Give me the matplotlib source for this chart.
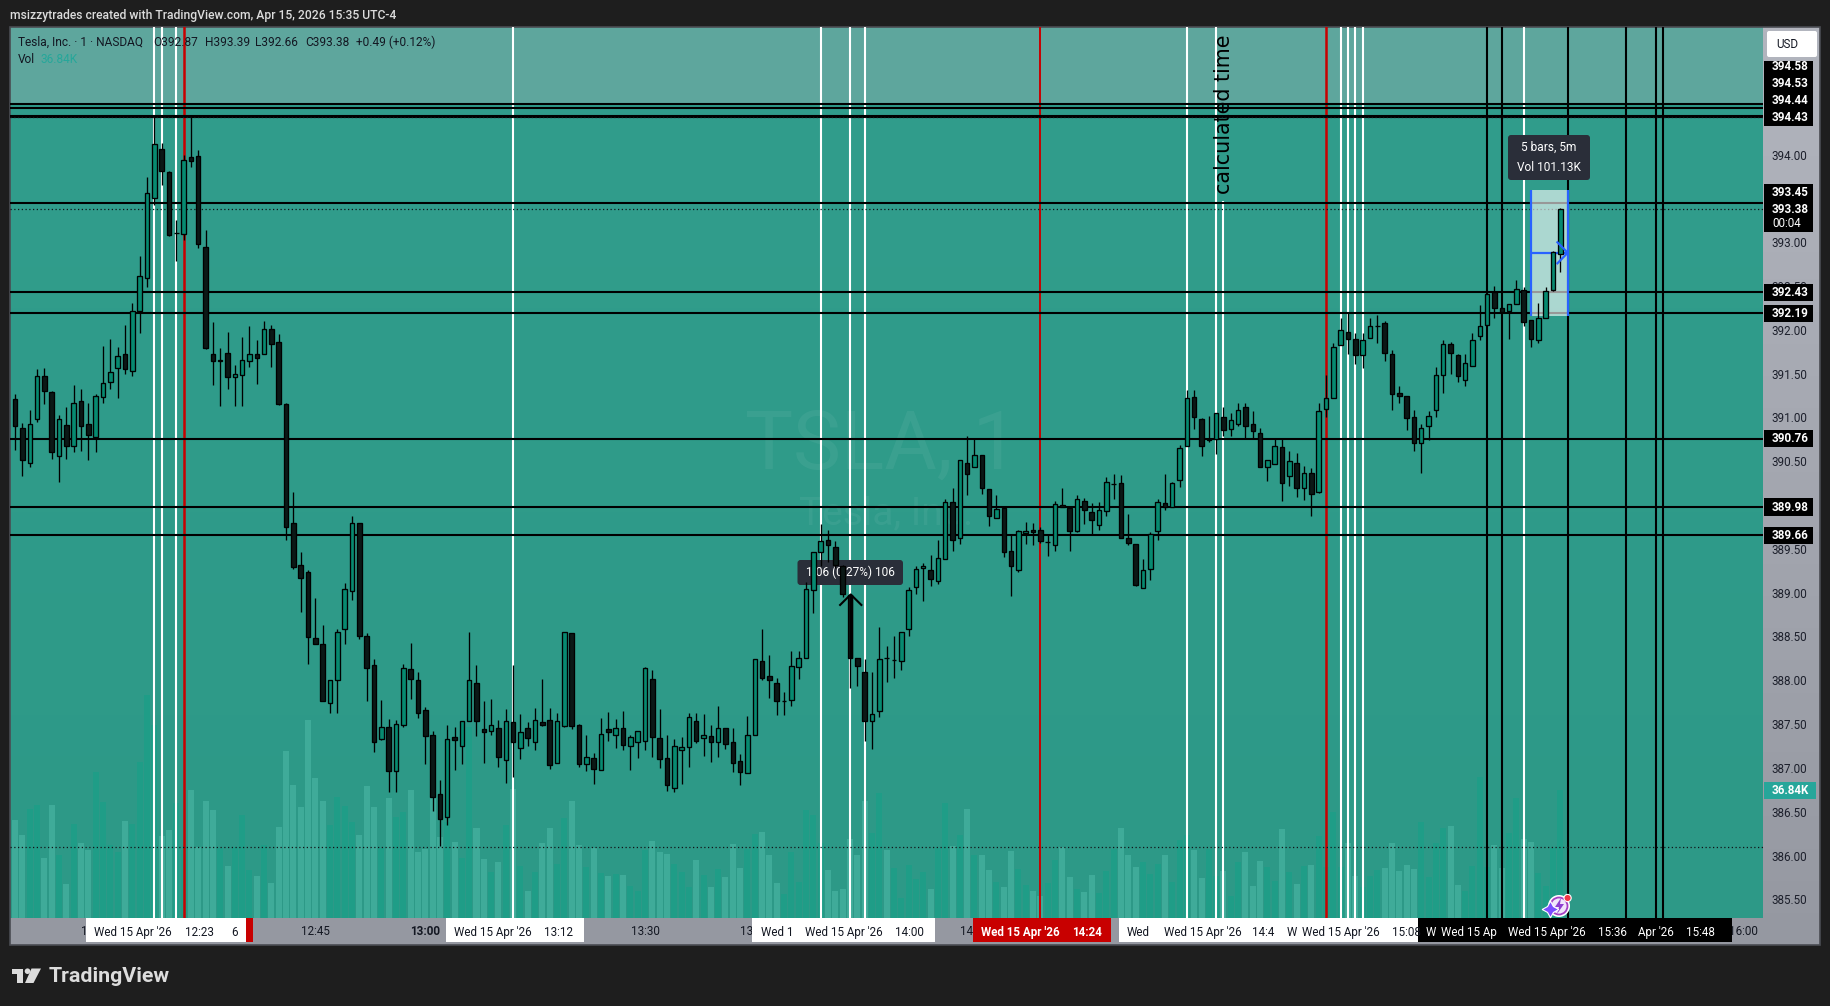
import numpy as np
import matplotlib
matplotlib.use('Agg')
import matplotlib.pyplot as plt
from matplotlib.patches import Rectangle, FancyBboxPatch, Polygon, Circle

plt.rcParams['font.family'] = ['Roboto', 'DejaVu Sans']

W, H = 1831, 1006

# minutes since midnight, one bar per minute, 12:04 to 15:35
first_bar = 724
opens = [391.21,390.88,390.48,390.98,391.47,391.29,390.56,390.91,390.68,391.19,
390.92,390.78,391.23,391.41,391.56,391.72,391.53,392.22,392.59,393.51,
394.07,393.80,393.11,393.10,393.97,393.98,392.95,391.73,391.64,391.74,
391.46,391.49,391.65,391.73,391.72,392.01,391.86,391.15,389.79,389.32,
389.24,388.48,388.42,387.74,388.00,388.59,389.02,389.79,388.51,388.18,
387.33,387.47,386.97,387.49,388.13,388.00,387.66,387.37,386.70,386.44,
387.35,387.25,387.53,387.97,387.44,387.42,387.45,387.09,387.52,387.23,
387.45,387.30,387.52,387.55,387.06,387.48,388.54,387.49,387.05,387.11,
386.98,387.44,387.38,387.46,387.25,387.30,387.31,388.01,387.34,387.11,
386.77,387.20,387.24,387.53,387.34,387.36,387.29,387.45,387.30,387.08,
386.94,387.38,388.22,388.05,387.97,387.76,387.78,388.15,388.26,389.03,
389.47,389.60,389.52,389.30,388.97,388.26,388.10,387.54,387.65,388.26,
388.23,388.22,388.58,389.07,389.28,389.26,389.13,389.39,390.04,389.62,
390.48,390.43,390.57,390.18,389.85,389.97,389.48,389.26,389.68,389.71,
389.71,389.58,389.55,390.00,389.97,389.70,390.05,389.92,389.77,389.93,
390.24,390.25,389.63,389.56,389.05,389.27,389.70,390.02,389.98,390.29,
390.67,391.23,390.98,390.74,390.76,391.00,390.87,390.93,391.12,390.92,
390.82,390.44,390.47,390.66,390.33,390.48,390.20,390.37,390.15,391.10,
391.22,391.83,391.98,391.90,391.71,391.91,392.05,392.08,391.73,391.28,
391.24,391.00,390.71,390.90,391.08,391.49,391.84,391.71,391.43,391.59,
391.93,392.06,392.43,392.25,392.22,392.29,392.46,392.11,391.89,392.13,
392.45,392.87]
highs = [391.27,390.94,391.09,391.55,391.57,391.30,391.03,391.12,391.37,391.33,
391.16,391.27,391.82,391.90,391.80,392.06,392.31,392.84,393.74,394.43,
394.13,393.81,393.26,394.00,394.43,394.05,393.14,392.09,391.79,391.98,
391.60,391.92,392.04,391.89,392.10,392.06,391.95,391.17,390.15,389.47,
389.26,388.94,388.63,388.00,388.58,389.11,389.88,389.79,388.54,388.24,
387.77,387.56,387.55,388.19,388.43,388.10,387.69,387.42,386.86,387.49,
387.47,387.54,388.55,388.17,387.76,387.79,387.55,387.67,388.17,387.62,
387.52,387.68,388.02,387.68,387.63,388.55,388.54,387.50,387.38,387.17,
387.57,387.64,387.56,387.65,387.38,387.42,388.15,388.12,387.67,387.38,
387.33,387.35,387.63,387.63,387.62,387.49,387.71,387.46,387.45,387.16,
387.59,388.24,388.59,388.29,388.03,387.87,388.33,388.33,389.12,389.47,
389.78,389.72,389.59,389.32,388.98,388.26,388.24,388.10,388.61,388.39,
388.51,388.55,389.06,389.30,389.34,389.43,389.60,390.07,390.20,390.52,
390.79,390.77,390.57,390.18,390.12,389.98,389.66,389.72,389.81,389.79,
389.75,389.66,390.05,390.20,389.97,390.12,390.08,390.02,390.04,390.32,
390.36,390.34,389.90,389.56,389.39,389.69,390.07,390.35,390.26,390.69,
391.31,391.31,390.99,391.02,391.05,391.12,391.05,391.16,391.16,391.07,
390.88,390.52,390.76,390.76,390.62,390.60,390.45,390.42,391.16,391.49,
391.85,392.13,392.19,391.97,391.97,392.13,392.17,392.10,391.77,391.36,
391.24,391.08,390.92,391.07,391.58,391.88,391.86,391.73,391.72,391.97,
392.28,392.41,392.50,392.25,392.29,392.57,392.49,392.11,392.31,392.49,
392.90,393.39]
lows = [390.63,390.33,390.44,390.95,391.15,390.53,390.26,390.53,390.61,390.62,
390.52,390.61,391.17,391.33,391.22,391.50,391.47,391.97,392.49,393.42,
393.65,393.07,392.79,393.03,393.86,392.93,391.78,391.37,391.13,391.33,
391.13,391.13,391.58,391.38,391.72,391.58,391.14,389.60,389.27,388.78,
388.19,388.42,387.76,387.63,387.63,388.42,388.92,388.47,387.76,387.18,
387.32,386.72,386.72,387.47,387.79,387.57,387.05,386.51,386.11,386.35,
386.98,387.04,387.53,387.36,387.06,387.37,387.01,386.83,386.90,387.10,
387.25,387.20,387.48,386.99,387.06,387.47,387.44,387.01,386.96,386.82,
386.98,387.31,387.23,387.21,386.98,387.11,387.20,387.13,387.00,386.74,
386.73,386.82,387.01,387.28,387.14,387.07,387.13,387.22,386.95,386.80,
386.94,387.38,388.00,387.80,387.60,387.60,387.71,388.01,388.25,388.77,
389.30,389.35,389.28,388.95,387.91,387.94,387.31,387.22,387.58,387.98,
388.03,388.12,388.51,388.99,388.91,389.08,389.10,389.39,389.48,389.56,
390.12,390.43,390.13,389.76,389.85,389.41,388.96,389.24,389.56,389.55,
389.57,389.42,389.48,389.98,389.48,389.69,389.78,389.67,389.72,389.87,
390.07,389.63,389.55,389.08,389.05,389.15,389.60,389.94,389.98,390.21,
390.67,390.87,390.56,390.72,390.58,390.79,390.79,390.90,390.77,390.77,
390.43,390.28,390.47,390.05,390.22,390.09,390.06,389.88,390.14,391.01,
391.22,391.83,391.72,391.61,391.57,391.91,391.85,391.64,391.09,391.17,
390.86,390.62,390.37,390.74,391.01,391.28,391.50,391.41,391.36,391.59,
391.89,392.06,392.14,392.19,391.90,392.29,392.05,391.81,391.85,392.13,
392.44,392.66]
closes = [390.90,390.51,390.92,391.47,391.30,390.61,390.98,390.68,391.16,390.90,
390.80,391.24,391.39,391.52,391.70,391.55,392.21,392.61,393.56,394.12,
393.81,393.08,393.11,393.94,393.93,392.98,391.79,391.65,391.66,391.46,
391.50,391.66,391.73,391.68,392.01,391.84,391.15,389.75,389.29,389.17,
388.49,388.42,387.76,388.00,388.55,389.04,389.79,388.50,388.14,387.29,
387.47,386.97,387.50,388.14,388.02,387.63,387.36,386.67,386.42,387.33,
387.32,387.54,388.00,387.54,387.41,387.49,387.12,387.53,387.30,387.41,
387.34,387.55,387.49,387.03,387.54,388.55,387.48,387.04,387.13,386.99,
387.39,387.41,387.46,387.26,387.35,387.42,388.14,387.35,387.10,386.81,
387.25,387.24,387.58,387.31,387.38,387.29,387.46,387.27,387.06,386.95,
387.38,388.24,388.03,388.00,387.76,387.76,388.16,388.26,389.04,389.47,
389.59,389.55,389.32,388.99,388.25,388.16,387.54,387.61,388.24,388.25,
388.23,388.55,389.03,389.27,389.30,389.16,389.40,390.04,389.60,390.52,
390.36,390.57,390.20,389.87,389.96,389.46,389.30,389.70,389.70,389.69,
389.59,389.58,390.01,389.98,389.70,390.07,389.94,389.83,389.94,390.26,
390.24,389.63,389.57,389.09,389.26,389.67,390.04,389.98,390.25,390.65,
391.22,391.00,390.68,390.75,391.05,390.86,390.97,391.08,390.90,390.85,
390.44,390.52,390.67,390.25,390.50,390.19,390.37,390.13,391.07,391.22,
391.80,392.00,391.90,391.71,391.89,392.04,392.05,391.74,391.27,391.24,
390.99,390.71,390.88,391.02,391.49,391.84,391.74,391.47,391.62,391.89,
392.04,392.41,392.25,392.20,392.29,392.47,392.09,391.90,392.13,392.44,
392.89,393.38]
# volume in thousands
volumes = [28.2,23.9,31.3,32.5,17.1,32.5,18.1,9.7,27.0,21.5,
19.5,42.1,33.3,21.0,19.0,27.9,27.0,45.0,64.3,55.6,
23.6,25.3,33.0,19.5,36.8,20.5,33.7,31.1,20.0,14.9,
20.5,29.6,13.8,12.0,21.0,9.9,26.3,48.1,38.3,32.0,
57.0,40.2,33.7,26.7,34.9,32.2,27.7,23.9,38.0,32.0,
20.0,34.6,29.1,30.6,36.8,19.0,19.8,40.2,23.4,27.7,
21.8,17.1,55.1,25.8,16.9,13.3,16.2,26.7,37.0,14.9,
7.7,13.3,21.5,25.8,15.5,28.7,33.7,21.0,14.7,20.2,
12.8,12.1,12.7,12.4,9.2,7.8,19.6,22.2,19.1,18.5,
15.6,13.2,8.8,16.7,12.4,9.0,14.1,11.8,21.4,14.4,
19.8,24.2,24.8,18.0,9.9,6.9,18.9,10.4,31.2,29.7,
21.5,13.9,7.8,8.4,22.8,18.2,33.6,24.4,36.0,19.4,
14.3,5.6,15.3,11.3,13.1,8.4,20.1,33.1,20.6,24.0,
31.5,18.0,18.2,13.9,10.3,8.9,19.3,14.1,9.5,7.8,
6.3,10.0,16.7,20.4,11.8,8.4,7.5,12.4,7.1,13.6,
19.8,26.0,18.2,14.7,16.2,12.7,15.6,18.2,10.4,22.5,
24.0,19.6,11.5,19.8,12.1,13.6,6.3,16.0,19.0,9.2,
16.5,14.5,10.6,25.6,13.3,9.7,14.9,15.2,23.6,14.7,
30.5,14.7,21.5,12.0,8.9,12.0,13.8,14.3,21.5,13.5,
15.2,14.0,27.5,11.8,21.5,26.0,26.5,9.4,7.7,14.9,
40.7,14.7,21.0,14.3,24.3,34.6,22.6,21.7,13.0,9.1,
20.0,36.84]

# horizontal levels, and vertical time lines in minutes
black_levels = [394.58, 394.53, 394.44, 394.43, 393.45, 392.43, 392.19, 390.76, 389.98, 389.66]
dotted_levels = [394.43, 393.38, 386.10]
white_times = [743, 744, 746, 792, 834, 838, 840, 884, 888, 905, 906, 907, 908, 930]
white_short_time = 889
white_short_top = 393.47
red_times = [747, 864, 903]
red_widths = [1.8, 1.4, 1.8]
black_times = [925, 927, 936, 944, 948, 949]

price_ticks = [385.5 + 0.5 * i for i in range(18)]
time_ticks = [735, 750, 765, 780, 810, 825, 855, 960]
time_tick_labels = ['12:15', '12:30', '12:45', '13:00', '13:30', '13:45', '14:15', '16:00']

times = first_bar + np.arange(len(opens))
opens = np.array(opens)
closes = np.array(closes)
highs = np.array(highs)
lows = np.array(lows)
bull = closes >= opens

fig = plt.figure(figsize=(W / 100, H / 100), dpi=100, facecolor='#1e1e1e')

PANE = (10, 27.3, 1763, 917.7)
XLIM = (723.3, 962.67)
YLIM = (385.29, 395.454)


def pixel_axes(z):
    a = fig.add_axes([0, 0, 1, 1], zorder=z)
    a.set_xlim(0, W)
    a.set_ylim(H, 0)
    a.axis('off')
    a.patch.set_alpha(0)
    return a


def pane_axes(z):
    l, t, r, b = PANE
    a = fig.add_axes([l / W, 1 - b / H, (r - l) / W, (b - t) / H], zorder=z)
    a.set_xlim(*XLIM)
    a.set_ylim(*YLIM)
    a.patch.set_alpha(0)
    for s in a.spines.values():
        s.set_visible(False)
    return a


# back layer: pane and scale colours
back = pixel_axes(0)
rows = np.arange(27, 918)
pane_rgb = np.zeros((len(rows), 1, 3))
light = rows < 104
pane_rgb[light, 0, :] = np.array([94, 166, 157]) / 255
mix = ((rows - 104) / (918 - 104))[:, None]
dark_col = (np.array([49, 157, 140]) * (1 - mix) + np.array([45, 153, 135]) * mix) / 255
pane_rgb[~light, 0, :] = dark_col[~light]
back.imshow(pane_rgb, extent=(10, 1763, 917.7, 27.3), aspect='auto', interpolation='nearest')
side = np.linspace(0, 1, 200)[:, None]
side_rgb = (np.array([178, 181, 190]) * (1 - side) + np.array([149, 152, 161]) * side)[:, None, :] / 255
back.imshow(side_rgb, extent=(1763, 1820, 945, 27.3), aspect='auto')
back.add_patch(Rectangle((10, 917.7), 1753, 27.3, fc='#9598a1', ec='none'))
back.add_patch(Rectangle((10, 27), 1810, 918, fc='none', ec='#4a4c52', lw=1.2))
back.set_xlim(0, W)
back.set_ylim(H, 0)
back.text(881, 447, 'TSLA, 1', color='white', alpha=0.055, fontsize=58, ha='center', va='center', family='Roboto')
back.text(886, 514, 'Tesla, Inc.', color='white', alpha=0.055, fontsize=28, ha='center', va='center', family='Roboto')

# volume pane
ax_vol = pane_axes(1)
ax_vol.set_ylim(0, 256.9)
ax_vol.axis('off')
ax_vol.bar(times, volumes, width=0.82, color=np.where(bull, '#1f9d87', '#3fab99'), linewidth=0)

# price pane
ax = pane_axes(2)
ax.yaxis.tick_right()
ax.set_yticks(price_ticks)
ax.set_yticklabels(['%.2f' % p for p in price_ticks], fontsize=8.4, color='#1c1f2b')
ax.set_xticks(time_ticks)
ax.set_xticklabels(time_tick_labels, fontsize=8.4, color='#131722')
ax.get_xticklabels()[3].set_fontweight('bold')
ax.tick_params(axis='both', length=0)
ax.tick_params(axis='y', pad=6.2)
ax.tick_params(axis='x', pad=5.5)

ax.vlines(white_times, YLIM[0], YLIM[1], color='white', lw=1.5, zorder=2)
ax.vlines([white_short_time], YLIM[0], white_short_top, color='white', lw=1.5, zorder=2)
for t, w in zip(red_times, red_widths):
    ax.axvline(t, color='#c80000', lw=w, zorder=2.1)
ax.vlines(black_times, YLIM[0], YLIM[1], color='black', lw=1.5, zorder=2.2)
ax.hlines(black_levels, XLIM[0], XLIM[1], color='black', lw=1.5, zorder=2.3)
ax.hlines(dotted_levels, XLIM[0], XLIM[1], color='#101418', lw=0.9, linestyles=(0, (1, 2)), zorder=2.3)

# date range box
box_t0, box_t1 = 931, 936
box_lo, box_hi = 392.16, 393.60
ax.add_patch(Rectangle((box_t0, box_lo), box_t1 - box_t0, box_hi - box_lo, fc='white', alpha=0.6, ec='none', zorder=3))
ax.vlines([box_t0, box_t1], box_lo, box_hi, color='#2962ff', lw=1.6, zorder=3.1)
ax.hlines([(box_lo + box_hi) / 2], box_t0, box_t1, color='#2962ff', lw=1.6, zorder=3.1)

# tooltips, over the lines but under the candles
for x0, y0, x1, y1, lines in [(797.5, 560, 903, 585, [('1.06 (0.27%) 106', 572.5)]),
                              (1508, 135, 1590, 180, [('5 bars, 5m', 147), ('Vol 101.13K', 167)])]:
    ax.add_patch(FancyBboxPatch((x0 + 3, y0 + 3), x1 - x0 - 6, y1 - y0 - 6, boxstyle='round,pad=3', fc='#2a2e39', ec='none',
                                transform=back.transData, zorder=3.4))
    for txt, ty in lines:
        ax.text((x0 + x1) / 2, ty, txt, color='white', fontsize=8.6, ha='center', va='center',
                transform=back.transData, zorder=3.5)

# candles
ax.vlines(times, lows, highs, color='black', lw=0.95, zorder=4)
ax.bar(times, np.abs(closes - opens), bottom=np.minimum(opens, closes), width=0.62,
       color=np.where(bull, '#078a70', '#0b1816'), edgecolor='black', linewidth=0.95, zorder=4.1)

# price range arrow over bar at 13:58
ax.plot([838.1, 838.1], [388.25, 388.97], color='black', lw=2.4, zorder=4.5, solid_capstyle='butt')
ax.plot([836.65, 838.1, 839.55], [388.86, 388.98, 388.86], color='black', lw=1.5, zorder=4.5)
ax.plot([934.6, 936, 934.6], [393.0, 392.88, 392.76], color='#2962ff', lw=1.6, zorder=4.5)

ax.text(1224, 114, 'calculated time', rotation=90, ha='center', va='center', fontsize=14.9, color='black',
        family='DejaVu Sans', transform=back.transData, zorder=5)

for x, txt in [(18, 'Tesla, Inc. · 1 · NASDAQ'), (153, 'O392.87'), (204.6, 'H393.39'), (255, 'L392.66'),
               (305, 'C393.38'), (356, '+0.49 (+0.12%)')]:
    ax.text(x, 42, txt, color='#131722', fontsize=8.6, va='center', transform=back.transData, zorder=5)
ax.text(18, 59, 'Vol', color='#131722', fontsize=8.6, va='center', transform=back.transData, zorder=5)
ax.text(41, 59, '36.84K', color='#26a69a', fontsize=8.6, va='center', transform=back.transData, zorder=5)

# top layer: chrome and labels
top = pixel_axes(5)
top.text(10, 15, 'msizzytrades created with TradingView.com, Apr 15, 2026 15:35 UTC-4', color='#dcdcdc', fontsize=8.7,
         fontweight='medium', va='center')

top.add_patch(FancyBboxPatch((1769, 33), 46, 22, boxstyle='round,pad=2', fc='white', ec='none'))
top.text(1776, 44.5, 'USD', color='#131722', fontsize=8.4, va='center')

for y0, y1 in [(61, 126), (184, 232), (284, 301), (305, 322), (430, 447), (498, 516), (527, 544)]:
    top.add_patch(Rectangle((1764, y0), 49, y1 - y0, fc='black', ec='none'))
for txt, y in [('394.58', 66.7), ('394.53', 83.3), ('394.44', 100.7), ('394.43', 117.7), ('393.45', 192.7), ('393.38', 209.6),
               ('00:04', 223.7), ('392.43', 292.5), ('392.19', 313.5), ('390.76', 438.5), ('389.98', 507.3), ('389.66', 535.5)]:
    top.text(1772, y, txt, color='white', fontsize=8.4, va='center', fontweight='bold' if txt != '00:04' else 'normal')
top.add_patch(Rectangle((1764, 782), 52, 17, fc='#26a69a', ec='none'))
top.text(1772, 790.5, '36.84K', color='white', fontsize=8.4, va='center', fontweight='bold')

# time axis label boxes
for x0, x1, col in [(86, 246, 'white'), (246, 253, '#c80000'), (446, 584, 'white'), (752, 935, 'white'),
                    (973, 1111, '#c80000'), (1119, 1418, 'white'), (1418, 1732, 'black')]:
    top.add_patch(Rectangle((x0, 917.7), x1 - x0, 24, fc=col, ec='none'))
dark_labels = [(94, "Wed 15 Apr '26"), (185, '12:23'), (231, '6'), (454, "Wed 15 Apr '26"), (544, '13:12'),
               (761, 'Wed 1'), (805, "Wed 15 Apr '26"), (895, '14:00'), (1127, 'Wed'),
               (1164, "Wed 15 Apr '26"), (1252, '14:4'), (1287, 'W'), (1302, "Wed 15 Apr '26"), (1392, '15:08')]
for x, txt in dark_labels:
    top.text(x, 932.5, txt, color='#131722', fontsize=8.4, va='center')
for x, txt in [(981, "Wed 15 Apr '26"), (1072, '14:24')]:
    top.text(x, 932.5, txt, color='white', fontsize=8.4, va='center', fontweight='bold')
for x, txt in [(1426, 'W'), (1441, 'Wed 15 Ap'), (1507.6, "Wed 15 Apr '26"), (1598, '15:36'), (1638, "Apr '26"), (1686, '15:48')]:
    top.text(x, 932.5, txt, color='white', fontsize=8.4, va='center')

# little assistant badge
top.add_patch(Circle((1559, 906), 11, fc='white', ec='none'))
top.add_patch(Circle((1559, 906), 8.5, fc='#f0e6fb', ec='#a63fc4', lw=1.3))
top.add_patch(Polygon([(1561, 898), (1555, 907), (1559, 907), (1557, 914), (1564, 904), (1560, 904)], fc='#8e3fd0', ec='none'))
top.plot([1550], [909], marker=(4, 1, 0), ms=12, color='#7b4dff', mec='white', mew=0.8)
top.add_patch(Circle((1567.6, 898), 3.6, fc='#f23645', ec='white', lw=0.8))

# TradingView logo
logo = '#dcdcdc'
top.add_patch(Polygon([(12, 968.5), (23.5, 968.5), (23.5, 983), (17.5, 983), (17.5, 974), (12, 974)], fc=logo, ec='none'))
top.add_patch(Circle((27.5, 971.2), 2.8, fc=logo, ec='none'))
top.add_patch(Polygon([(31.5, 968.5), (41, 968.5), (33.5, 983), (25, 983)], fc=logo, ec='none'))
top.text(49, 976.5, 'TradingView', color=logo, fontsize=15.4, fontweight='bold', va='center')

fig.savefig('out.png', dpi=100, facecolor=fig.get_facecolor())
